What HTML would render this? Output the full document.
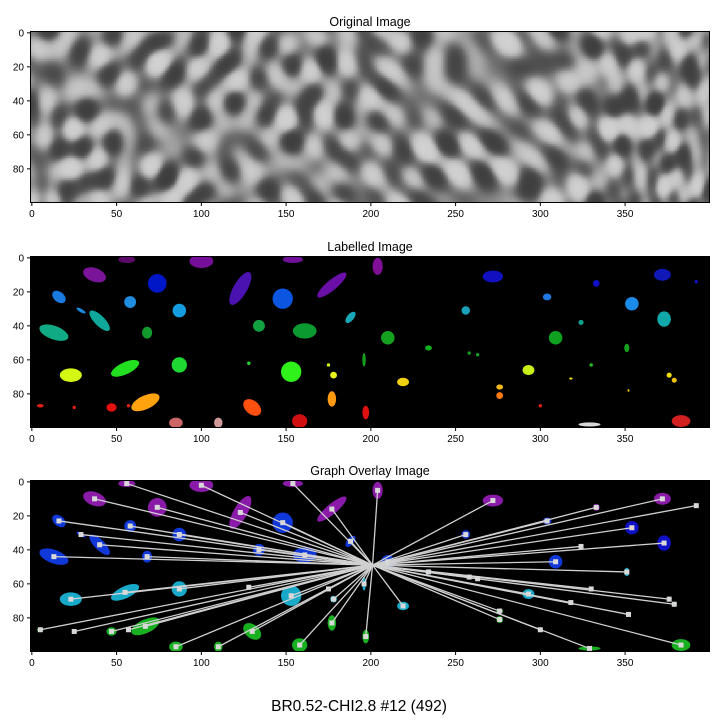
<!DOCTYPE html>
<html><head><meta charset="utf-8">
<style>
body{margin:0;background:#fff;font-family:"Liberation Sans",sans-serif;}
#wrap{position:relative;width:720px;height:720px;overflow:hidden;}
canvas{position:absolute;image-rendering:pixelated;}
svg{position:absolute;left:0;top:0;}
</style></head>
<body>
<div id="wrap">
<canvas id="orig" width="400" height="100" style="left:31px;top:32px;width:678px;height:170px"></canvas>
<svg id="svg" width="720" height="720"></svg>
</div>
<script>
const xTicks=[0,50,100,150,200,250,300,350];
const yTicks=[0,20,40,60,80];
const titles=["Original Image","Labelled Image","Graph Overlay Image"];
const panelTops=[32,257,481];
const blobX=[56,37,100,154,74,123,177,148,16,29,58,87,40,13,68,134,161,188,55,87,128,153,23,175,178,5,25,47,57,67,130,177,197,85,110,158,196,204,272,333,372,392,304,354,256,324,373,210,234,258,263,309,351,330,219,293,318,276,276,376,379,352,300,329,383];
const blobY=[1,10,2,1,15,18,16,24,23,31,26,31,37,44,44,40,43,35,65,63,62,67,69,63,69,87,88,88,87,85,88,83,91,97,97,96,60,5,11,15,10,14,23,27,31,38,36,47,53,56,57,47,53,63,73,66,71,76,81,69,72,78,87,98,96];
const blobRx=[5,7,7,6,5.5,11,11,6,4.5,3,3.5,4,8,9,3,3.5,7,4,9,4.5,1,6,6.5,1,2,2,1,3,1,9,6,2.5,2,4,2.5,4.5,1,3,6,2,5,1,2.5,4,2.5,1.5,4,4,2,1,1,4,1.5,1,3.5,3.5,1,2,2,1.5,1.5,0.6,1,6.5,5.5];
const blobRy=[2,4,4,2,5.5,4,3,6,3,1,3.5,4,3,4,3.5,3.5,4.5,2,3.5,4.5,1,6,4,1,2,1,1,2.5,1,4,4,4.5,4,3,3,4,4,5,3.5,2,3.5,1,2,4,2.5,1.5,4.5,4,1.5,1,1,4,2.5,1,2.5,3,0.6,1.5,2,1.5,1.5,0.8,1,1.2,3.5];
const blobAng=[0,20,0,0,0,-60,-40,0,40,30,0,0,45,20,0,0,0,-50,-25,0,0,0,0,0,0,0,0,0,0,-25,40,0,0,0,0,0,0,0,0,0,0,0,0,0,0,0,0,0,0,0,0,0,0,0,0,0,0,0,0,0,0,0,0,0,0];
const blobCol=["#5c0a6a","#7a1599","#760f98","#700f98","#0017c8","#4a12b0","#6a0fa8","#0b55e0","#1a7ae0","#1a8ae0","#1f8ce0","#149ee0","#0ea79a","#10aa85","#129a2c","#12a040","#0a9a30","#18a8b8","#22e020","#20d832","#20d832","#2ef21a","#d4f813","#c8f018","#eaf21a","#e02010","#e02010","#e31010","#e02010","#ffa20e","#ff5010","#ff9a10","#e01010","#cc6666","#d09a9a","#d01010","#15a020","#800f98","#1010c0","#1010c8","#1018b8","#1010c8","#1f78e0","#1a8be8","#1aa0b8","#10a090","#10a8a8","#15a020","#15b020","#15a020","#15a020","#10a020","#15a020","#20c020","#f0d010","#c8f018","#f0e010","#f5b81a","#ff7a10","#f0e010","#f0c010","#f0d010","#e02010","#d8d8d8","#d02020"];
const centerX=201, centerY=49;

const L=31,W=678,H=170;
function sx(v){return L+(v+0.5)*W/400;}
function sy(top,v){return top+(v+0.5)*H/100;}

(function(){
 const c=document.getElementById('orig').getContext('2d');
 const img=c.createImageData(400,100);
 const angs=[0.2,0.75,1.3,1.85,2.4,2.95,0.5,1.6];
 const phs=[0.3,1.7,4.1,2.6,5.2,0.9,3.3,4.7];
 const wl=[20,22,19,21,23,18,28,25];
 for(let y=0;y<100;y++)for(let x=0;x<400;x++){
  let v=0;
  for(let k=0;k<angs.length;k++){
   const a=angs[k]+0.25*Math.sin(x*0.015+k*1.3);
   v+=Math.cos((x*Math.cos(a)+y*Math.sin(a))*2*Math.PI/wl[k]+phs[k]);
  }
  v/=3.2;
  v=Math.tanh(1.2*v);
  let g=Math.max(0,Math.min(255,135+75*v));
  let i=(y*400+x)*4;img.data[i]=img.data[i+1]=img.data[i+2]=g;img.data[i+3]=255;
 }
 c.putImageData(img,0,0);
})();

const NS="http://www.w3.org/2000/svg";
const svg=document.getElementById('svg');
function mk(tag,attrs,parent){const e=document.createElementNS(NS,tag);for(const k in attrs)e.setAttribute(k,attrs[k]);(parent||svg).appendChild(e);return e;}

function overlayCol(i){
 const y=blobY[i],x=blobX[i];
 if(x>340&&y>20&&y<45)return "#1010c8";
 if(y<20)return "#8a1aa8";
 if(y<48)return "#1038d8";
 if(y<75)return "#18a8c8";
 return "#18b020";
}

panelTops.forEach((top,p)=>{
 const g=mk('g',{});
 
 
 const t=mk('text',{x:L+W/2,y:top-6,'text-anchor':'middle','font-size':'12.5',fill:'#000'},g);
 t.textContent=titles[p];
 
 
 if(p>0){
  const bg=mk('rect',{x:L,y:top,width:W,height:H,fill:'#000'},g);
  
  
  const clip=mk('clipPath',{id:'c'+p},g);
  mk('rect',{x:L,y:top,width:W,height:H},clip);
  const bl=mk('g',{'clip-path':'url(#c'+p+')'},g);
  for(let i=0;i<blobX.length;i++){
   const cx=sx(blobX[i]),cy=sy(top,blobY[i]);
   const e=mk('ellipse',{cx:cx,cy:cy,rx:blobRx[i]*W/400,ry:blobRy[i]*H/100,fill:p==1?blobCol[i]:overlayCol(i),transform:'rotate('+blobAng[i]+' '+cx+' '+cy+')'},bl);
   
   
  }
  if(p==2){
   for(let i=0;i<blobX.length;i++){
    const ln=mk('line',{x1:sx(centerX),y1:sy(top,centerY),x2:sx(blobX[i]),y2:sy(top,blobY[i]),stroke:'#d0d0d0','stroke-width':1.3},bl);
    
    
   }
   for(let i=0;i<blobX.length;i++){
    const n=mk('rect',{x:sx(blobX[i])-2.5,y:sy(top,blobY[i])-2.5,width:5,height:5,fill:'#d8d8d8'},bl);
    
    
   }
  }
 }
 const fr=mk('rect',{x:L-0.5,y:top-0.5,width:W+1,height:H+1,fill:'none',stroke:'#000','stroke-width':1},g);
 
 
 xTicks.forEach(v=>{
  const x=sx(v);
  mk('line',{x1:x,x2:x,y1:top+H+0.5,y2:top+H+4,stroke:'#000'},g);
  const tx=mk('text',{x:x,y:top+H+15,'text-anchor':'middle','font-size':'10',fill:'#000'},g);
  tx.textContent=v;
  
  
 });
 yTicks.forEach(v=>{
  const y=sy(top,v);
  mk('line',{x1:L-4,x2:L-0.5,y1:y,y2:y,stroke:'#000'},g);
  const ty=mk('text',{x:L-7,y:y+3.5,'text-anchor':'end','font-size':'10',fill:'#000'},g);
  ty.textContent=v;
  
  
 });
});
const st=mk('text',{x:359,y:711,'text-anchor':'middle','font-size':'15.5',fill:'#000'});
st.textContent="BR0.52-CHI2.8 #12 (492)";


</script>
</body></html>
